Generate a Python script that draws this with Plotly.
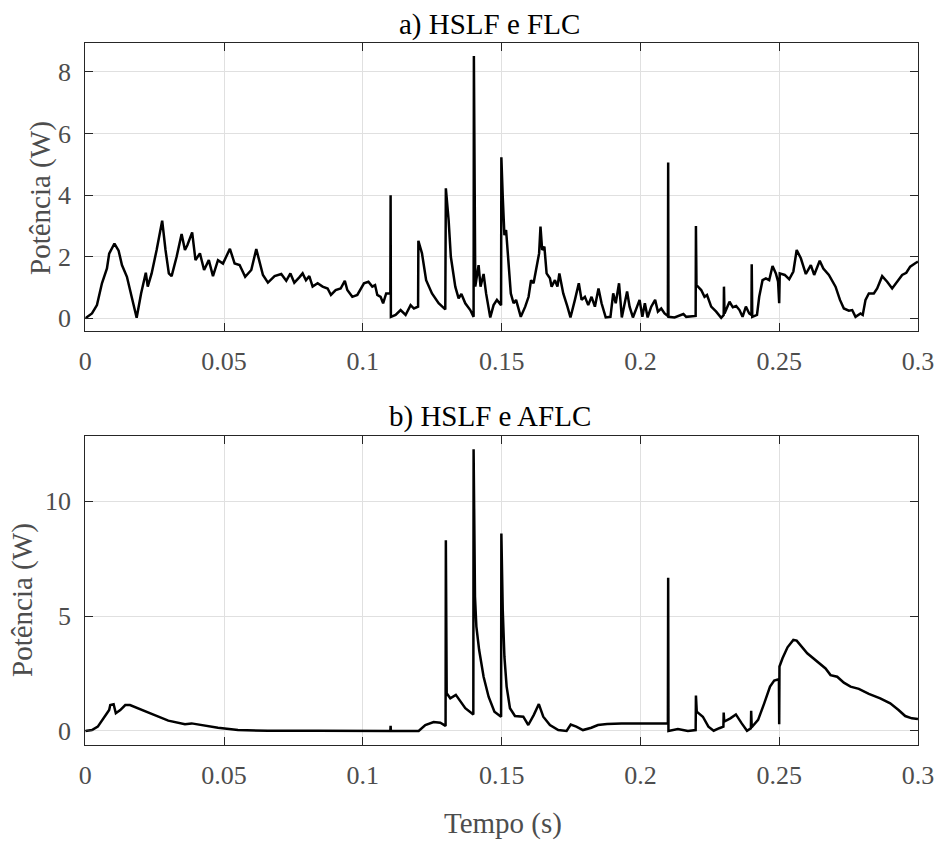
import plotly.graph_objects as go

# ---- data: a) HSLF e FLC ----
t_a = [0, 0.0024, 0.0042, 0.006, 0.0078, 0.0086, 0.0105, 0.012, 0.0132, 0.015, 0.0167, 0.0185,
       0.0201, 0.0218, 0.0225, 0.0239, 0.0257, 0.0277, 0.0289, 0.0301, 0.0311, 0.0329, 0.0347,
       0.0359, 0.0368, 0.0385, 0.0397, 0.0413, 0.0428, 0.0445, 0.046, 0.0478, 0.0496, 0.0521,
       0.0538, 0.0556, 0.0576, 0.0598, 0.0616, 0.064, 0.0658, 0.0682, 0.0706, 0.0724, 0.0739,
       0.0753, 0.0771, 0.0783, 0.0795, 0.0807, 0.0819, 0.0837, 0.0855, 0.0873, 0.0885, 0.0902,
       0.092, 0.0935, 0.0944, 0.0962, 0.098, 0.0992, 0.1004, 0.102, 0.1034, 0.1044, 0.1052,
       0.1064, 0.1073, 0.1084, 0.1099, 0.1100, 0.1101, 0.1118, 0.1136, 0.1154, 0.1172, 0.1184,
       0.1199, 0.1200, 0.1213, 0.1228, 0.1249, 0.1273, 0.1297, 0.1299, 0.1309, 0.1317, 0.1333,
       0.1345, 0.1355, 0.1369, 0.1387, 0.1399, 0.14, 0.1405, 0.1417, 0.1424, 0.1435, 0.1444,
       0.1459, 0.1471, 0.1483, 0.1498, 0.1499, 0.1504, 0.151, 0.1516, 0.1525, 0.1533, 0.1543,
       0.1552, 0.1569, 0.1585, 0.1597, 0.1606, 0.1615, 0.1626, 0.1635, 0.164, 0.1646, 0.1654,
       0.1662, 0.1674, 0.168, 0.1692, 0.1701, 0.1708, 0.1722, 0.1737, 0.1748, 0.1764, 0.1778,
       0.1788, 0.18, 0.1812, 0.1824, 0.1836, 0.1849, 0.186, 0.1875, 0.1892, 0.1902, 0.1911,
       0.1923, 0.1933, 0.1943, 0.1952, 0.1961, 0.1973, 0.1988, 0.1997, 0.2007, 0.2016, 0.2026,
       0.2039, 0.2053, 0.2063, 0.2075, 0.2087, 0.2099, 0.21, 0.2101, 0.2123, 0.2141, 0.2155,
       0.2165, 0.2199, 0.2200, 0.2202, 0.2219, 0.2231, 0.224, 0.2255, 0.2273, 0.2291, 0.2300,
       0.2301, 0.2303, 0.2321, 0.2333, 0.2345, 0.2357, 0.2368, 0.238, 0.2392, 0.2400, 0.2401,
       0.2403, 0.242, 0.2428, 0.244, 0.2452, 0.2464, 0.2476, 0.2488, 0.2496, 0.2500, 0.2502,
       0.252, 0.2536, 0.2551, 0.2563, 0.2578, 0.2596, 0.2614, 0.2626, 0.2646, 0.2659, 0.2679,
       0.2703, 0.2719, 0.2733, 0.2751, 0.2763, 0.2775, 0.2793, 0.2801, 0.2811, 0.2823, 0.2841,
       0.2853, 0.2871, 0.2889, 0.2907, 0.2925, 0.2943, 0.2958, 0.2972, 0.299, 0.3]
p_a = [0, 0.16, 0.43, 1.14, 1.62, 2.1, 2.43, 2.2, 1.73, 1.35, 0.7, 0.02,
       0.81, 1.48, 1.03, 1.46, 2.22, 3.17, 2.22, 1.46, 1.37, 2.0, 2.74,
       2.22, 2.38, 2.79, 1.89, 2.11, 1.57, 1.89, 1.37, 1.89, 1.78, 2.26,
       1.78, 1.73, 1.35, 1.57, 2.25, 1.41, 1.16, 1.37, 1.44, 1.22, 1.46,
       1.16, 1.33, 1.46, 1.24, 1.37, 1.03, 1.14, 1.03, 0.97, 0.76, 0.92,
       0.97, 1.22, 0.92, 0.7, 0.76, 0.97, 1.14, 1.19, 1.03, 1.08, 0.76,
       0.7, 0.49, 0.81, 0.81, 4.0, 0.05, 0.11, 0.27, 0.11, 0.43, 0.32,
       0.38, 2.52, 2.11, 1.24, 0.81, 0.49, 0.29, 4.22, 3.19, 2.0, 1.03,
       0.65, 0.79, 0.49, 0.27, 0.05, 8.52, 1.03, 1.73, 1.03, 1.44, 0.81,
       0.03, 0.43, 0.6, 0.43, 5.23, 3.95, 2.7, 2.87, 1.68, 0.81, 0.49,
       0.6, 0.05, 0.38, 0.7, 1.24, 1.14, 1.68, 2.11, 2.98, 2.22, 2.33,
       1.46, 1.3, 1.03, 1.24, 1.03, 1.46, 0.81, 0.38, 0.03, 0.6, 1.14,
       0.6, 0.7, 0.43, 0.7, 0.38, 0.97, 0.49, 0.03, 0.05, 0.81, 0.49,
       1.14, 0.03, 0.49, 0.87, 0.38, 0.03, 0.38, 0.6, 0.05, 0.49, 0.03,
       0.38, 0.6, 0.22, 0.32, 0.16, 0.08, 5.06, 0.05, 0.03, 0.08, 0.14,
       0.05, 0.08, 3.0, 1.08, 0.92, 0.7, 0.76, 0.38, 0.22, 0.02, 0.11,
       1.03, 0.16, 0.54, 0.36, 0.4, 0.27, 0.05, 0.38, 0.16, 0.11, 1.76,
       0.05, 0.11, 0.7, 1.24, 1.3, 1.24, 1.7, 1.46, 1.19, 0.49, 1.46,
       1.41, 1.27, 1.52, 2.22, 1.95, 1.44, 1.73, 1.41, 1.87, 1.62, 1.41,
       1.03, 0.6, 0.32, 0.25, 0.27, 0.05, 0.16, 0.11, 0.6, 0.81, 0.81,
       0.97, 1.37, 1.19, 0.97, 1.19, 1.41, 1.48, 1.68, 1.79, 1.84]

# ---- data: b) HSLF e AFLC ----
t_b = [0, 0.0024, 0.0045, 0.006, 0.0078, 0.0086, 0.009, 0.0102, 0.011, 0.0126, 0.0144, 0.0161,
       0.0191, 0.0239, 0.0299, 0.0359, 0.0383, 0.0419, 0.0478, 0.055, 0.0658, 0.0837, 0.0957,
       0.1076, 0.1099, 0.11, 0.1101, 0.1201, 0.1225, 0.1255, 0.1279, 0.1298, 0.1299, 0.1302,
       0.1315, 0.1335, 0.1351, 0.1369, 0.1398, 0.1399, 0.1404, 0.1409, 0.1419, 0.1435, 0.1453,
       0.1474, 0.1498, 0.1499, 0.1504, 0.151, 0.1518, 0.153, 0.1548, 0.1578, 0.1596, 0.1616,
       0.1634, 0.165, 0.1674, 0.1704, 0.1734, 0.1749, 0.1769, 0.1793, 0.1823, 0.1847, 0.188,
       0.1932, 0.2051, 0.2099, 0.21, 0.2101, 0.2135, 0.2159, 0.2171, 0.2199, 0.2200, 0.2203,
       0.2225, 0.2245, 0.2264, 0.2284, 0.2299, 0.2300, 0.2302, 0.2324, 0.2344, 0.2365, 0.2384,
       0.2398, 0.2399, 0.2401, 0.2424, 0.2446, 0.2467, 0.2482, 0.2499, 0.2500, 0.2501, 0.2512,
       0.253, 0.2551, 0.2563, 0.2601, 0.2637, 0.2667, 0.2685, 0.2709, 0.2733, 0.2757, 0.2787,
       0.2823, 0.2864, 0.29, 0.293, 0.2954, 0.2978, 0.3]
p_b = [0, 0.04, 0.19, 0.48, 0.77, 0.91, 1.13, 1.16, 0.77, 0.91, 1.13, 1.13,
       0.99, 0.74, 0.45, 0.29, 0.33, 0.26, 0.14, 0.04, 0.01, 0.01, 0.0,
       0.01, 0.0, 0.22, 0.0, 0.0, 0.26, 0.39, 0.36, 0.22, 8.3, 1.64,
       1.42, 1.57, 1.28, 0.99, 0.72, 12.25, 5.84, 4.54, 3.52, 2.36, 1.49,
       0.84, 0.62, 8.59, 5.26, 3.23, 1.93, 0.99, 0.65, 0.62, 0.26, 0.7,
       1.17, 0.62, 0.26, 0.04, 0.0, 0.28, 0.19, 0.04, 0.14, 0.26, 0.3,
       0.33, 0.33, 0.33, 6.67, 0.0, 0.09, 0.04, 0.0, 0.04, 1.54, 0.84,
       0.62, 0.19, 0.01, 0.12, 0.19, 0.8, 0.41, 0.55, 0.72, 0.33, 0.01,
       0.12, 0.88, 0.16, 0.48, 1.2, 1.93, 2.19, 2.25, 0.29, 2.8, 3.16,
       3.64, 3.96, 3.93, 3.38, 3.01, 2.72, 2.43, 2.36, 2.1, 1.93, 1.83,
       1.61, 1.42, 1.2, 0.91, 0.65, 0.55, 0.52]

x_ticks = [0, 0.05, 0.1, 0.15, 0.2, 0.25, 0.3]
x_tick_labels = ["0", "0.05", "0.1", "0.15", "0.2", "0.25", "0.3"]
y_ticks_a = [0, 2, 4, 6, 8]
y_ticks_b = [0, 5, 10]

FONT = "Liberation Serif"
TICKC = "#4d4d4d"
AXC = "#262626"
GRIDC = "#e0e0e0"

fig = go.Figure()
fig.add_trace(go.Scatter(x=t_a, y=p_a, mode="lines", line=dict(color="black", width=2.5),
                         xaxis="x", yaxis="y", showlegend=False))
fig.add_trace(go.Scatter(x=t_b, y=p_b, mode="lines", line=dict(color="black", width=2.5),
                         xaxis="x2", yaxis="y2", showlegend=False))

def xax(anchor, domain):
    return dict(domain=domain, anchor=anchor, range=[0, 0.30001], tickvals=x_ticks,
                ticktext=x_tick_labels, ticks="inside", ticklen=8, tickcolor=AXC,
                showline=True, linecolor=AXC, linewidth=1, mirror="ticks",
                showgrid=True, gridcolor=GRIDC, gridwidth=1, zeroline=False,
                ticklabeloverflow="allow", automargin=False,
                tickfont=dict(family=FONT, size=26, color=TICKC), ticklabelstandoff=7)

def yax(anchor, domain, rng, ticks):
    return dict(domain=domain, anchor=anchor, range=rng, tickvals=ticks,
                ticks="inside", ticklen=8, tickcolor=AXC, automargin=False,
                showline=True, linecolor=AXC, linewidth=1, mirror="ticks",
                showgrid=True, gridcolor=GRIDC, gridwidth=1, zeroline=False,
                tickfont=dict(family=FONT, size=26, color=TICKC), ticklabelstandoff=8)

xd = [85.3 / 936, 918 / 936]
fig.update_layout(
    width=936, height=854,
    margin=dict(l=0, r=0, t=0, b=0),
    paper_bgcolor="white", plot_bgcolor="white",
    xaxis=xax("y", xd),
    yaxis=yax("x", [1 - 331 / 854, 1 - 43.3 / 854], [-0.41, 8.93], y_ticks_a),
    xaxis2=xax("y2", xd),
    yaxis2=yax("x2", [1 - 745 / 854, 1 - 436 / 854], [-0.61, 12.83], y_ticks_b),
    annotations=[
        dict(text="a) HSLF e FLC", x=489 / 936, y=1 - 24 / 854, xref="paper", yref="paper",
             showarrow=False, xanchor="center", yanchor="middle",
             font=dict(family=FONT, size=29, color="black")),
        dict(text="b) HSLF e AFLC", x=490 / 936, y=1 - 416 / 854, xref="paper", yref="paper",
             showarrow=False, xanchor="center", yanchor="middle",
             font=dict(family=FONT, size=29, color="black")),
        dict(text="Tempo (s)", x=503 / 936, y=1 - 823 / 854, xref="paper", yref="paper",
             showarrow=False, xanchor="center", yanchor="middle",
             font=dict(family=FONT, size=29, color=TICKC)),
        dict(text="Potência (W)", x=40 / 936, y=1 - 198 / 854, xref="paper", yref="paper",
             showarrow=False, xanchor="center", yanchor="middle", textangle=-90,
             font=dict(family=FONT, size=29, color=TICKC)),
        dict(text="Potência (W)", x=22 / 936, y=1 - 600 / 854, xref="paper", yref="paper",
             showarrow=False, xanchor="center", yanchor="middle", textangle=-90,
             font=dict(family=FONT, size=29, color=TICKC)),
    ],
)

fig.write_html("out.html")
